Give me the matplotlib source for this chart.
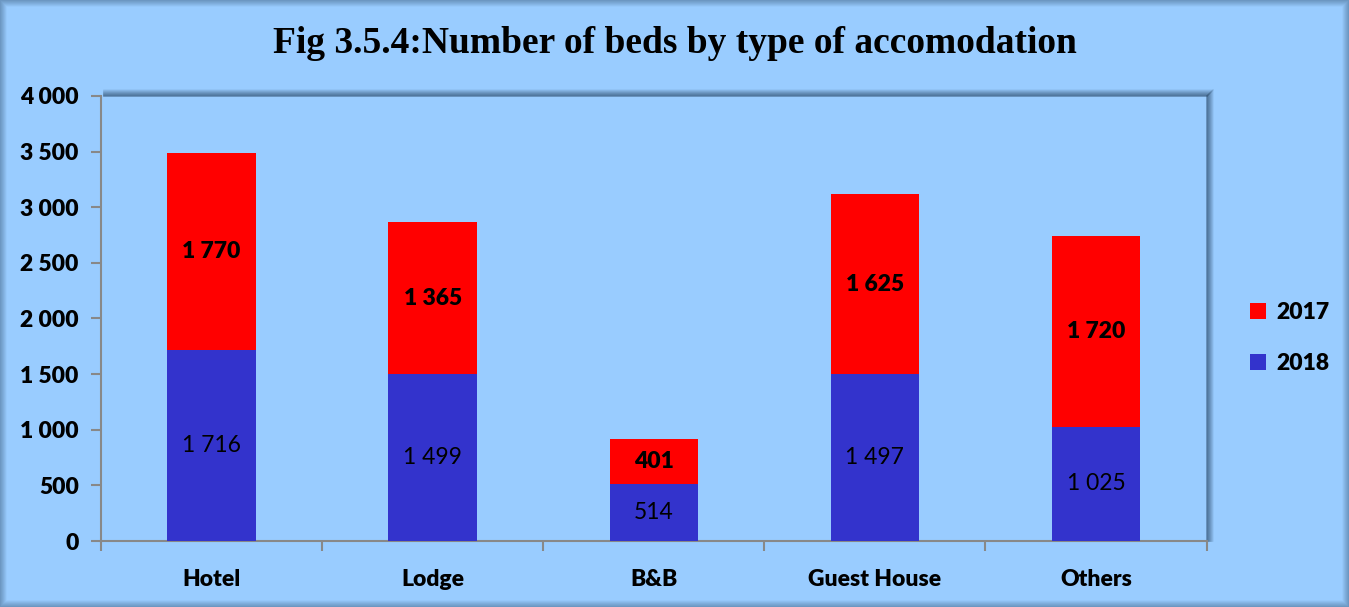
import matplotlib
matplotlib.use("Agg")
import matplotlib.pyplot as plt
import numpy as np
from matplotlib.patches import Rectangle

categories = ["Hotel", "Lodge", "B&B", "Guest House", "Others"]
beds_2018 = [1716, 1499, 514, 1497, 1025]
beds_2017 = [1770, 1365, 401, 1625, 1720]
yticks = [0, 500, 1000, 1500, 2000, 2500, 3000, 3500, 4000]

def fmt(v):
    return f"{v:,}".replace(",", " ")

bg = "#99CCFF"
c17 = "#FF0000"
c18 = "#3333CC"
font = "Lato"
fs = 16.5
bw = "heavy"

fig = plt.figure(figsize=(13.49, 6.07), dpi=100, facecolor=bg)

# outer frame shading
for i, a in enumerate(np.linspace(0.5, 0.0, 8)):
    fig.patches.append(Rectangle((i / 1349, i / 607), 1 - 2 * i / 1349, 1 - 2 * i / 607,
                                 transform=fig.transFigure, fill=False,
                                 edgecolor="#2F4F6F", alpha=a * 0.6, linewidth=1.2))

ax = fig.add_axes([0.0749, 0.1087, 0.8195, 0.7333])
ax.set_facecolor(bg)

x = np.arange(len(categories))
w = 0.4
ax.bar(x, beds_2018, w, color=c18, label="2018", zorder=3)
ax.bar(x, beds_2017, w, bottom=beds_2018, color=c17, label="2017", zorder=3)

for xi, a, b in zip(x, beds_2018, beds_2017):
    ax.text(xi, a / 2, fmt(a), ha="center", va="center", fontsize=fs,
            family=font, color="black", zorder=4)
    ax.text(xi, a + b / 2, fmt(b), ha="center", va="center", fontsize=fs,
            family=font, fontweight=bw, color="black", zorder=4)

ax.set_xlim(-0.5, len(categories) - 0.5)
ax.set_ylim(0, 4000)
ax.set_yticks(yticks)
ax.set_yticklabels([fmt(t) for t in yticks], fontsize=fs, fontweight=bw, family=font)
ax.set_xticks(x)
ax.set_xticklabels(categories, fontsize=fs, fontweight=bw, family=font)
ax.tick_params(axis="x", length=0, pad=20)
ax.set_xticks(np.arange(-0.5, len(categories)), minor=True)
ax.tick_params(axis="x", which="minor", length=7, color="#888888", width=1.5)
ax.tick_params(axis="y", length=7, color="#888888", width=1.5, pad=9)

for s in ["top", "right"]:
    ax.spines[s].set_visible(False)
for s in ["left", "bottom"]:
    ax.spines[s].set_color("#888888")
    ax.spines[s].set_linewidth(1.5)

# plot-area shadow along top and right
for i, a in enumerate(np.linspace(0.55, 0.0, 8)):
    ax.plot([0.003, 1 + i * 0.0009], [1 + i * 0.0022, 1 + i * 0.0022], transform=ax.transAxes,
            color="#2F4F6F", alpha=a, lw=1.2, clip_on=False, zorder=1)
    ax.plot([1 + i * 0.0009, 1 + i * 0.0009], [0.0, 1 + i * 0.0022], transform=ax.transAxes,
            color="#2F4F6F", alpha=a, lw=1.2, clip_on=False, zorder=1)

fig.text(0.5, 0.928, "Fig 3.5.4:Number of beds by type of accomodation", ha="center", va="center",
         fontsize=27, fontweight="bold", family="Liberation Serif")

h, l = ax.get_legend_handles_labels()
leg = fig.legend(h[::-1], l[::-1], loc="center left", bbox_to_anchor=(0.911, 0.443),
                 frameon=False, prop={"family": font, "weight": bw, "size": fs},
                 handlelength=0.7, handleheight=0.7, handletextpad=0.45, labelspacing=1.3)

fig.savefig("out.png", dpi=100, facecolor=bg)
